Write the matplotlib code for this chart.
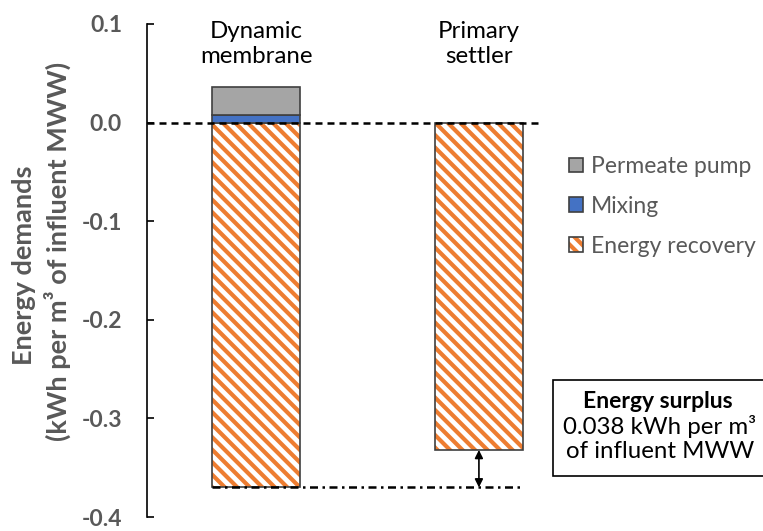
import matplotlib
matplotlib.use('Agg')
import matplotlib.pyplot as plt
from matplotlib.patches import Rectangle
from matplotlib.legend_handler import HandlerTuple

plt.rcParams['font.family'] = ['Lato', 'DejaVu Sans']
plt.rcParams['hatch.linewidth'] = 2.0

# energy balance per process (kWh per m3 of influent MWW)
processes = ['Dynamic\nmembrane', 'Primary\nsettler']
mixing = [0.008, 0.0]
permeate_pump = [0.028, 0.0]
energy_recovery = [-0.370, -0.332]
surplus = round(energy_recovery[1] - energy_recovery[0], 3)

yticks = [0.1, 0.0, -0.1, -0.2, -0.3, -0.4]

GRAY = '#A5A5A5'
BLUE = '#4472C4'
ORANGE = '#ED7D31'
EDGE = '#404040'
TXT = '#595959'

DPI = 150
W, H = 763, 531
fig = plt.figure(figsize=(W / DPI, H / DPI), dpi=DPI)
ax = fig.add_axes([147 / W, 14 / H, (540 - 147) / W, 493 / H])

x = [0, 1]
width = 0.395

# recovery bars: orange hatch first, dark outline on top
rec = ax.bar(x, energy_recovery, width, color='white', edgecolor=ORANGE,
             linewidth=0, hatch='\\\\\\\\', zorder=2)
rec_edge = ax.bar(x, energy_recovery, width, fill=False, edgecolor=EDGE,
                  linewidth=0.8, zorder=3)
mix = ax.bar(x[:1], mixing[:1], width, color=BLUE, edgecolor=EDGE,
             linewidth=0.8, zorder=3)
pump = ax.bar(x[:1], permeate_pump[:1], width, bottom=mixing[:1], color=GRAY,
              edgecolor=EDGE, linewidth=0.8, zorder=3)

# zero line
ax.axhline(0, color='black', lw=1.2, ls=(0, (2.8, 2.0)), zorder=4)

# reference line at the lower recovery level and the surplus arrow
ax.plot([x[0] - width / 2, 1.184], [energy_recovery[0]] * 2, color='black',
        lw=1.2, ls=(0, (3.2, 1.8, 1.0, 1.8)), zorder=4)
ax.annotate('', xy=(x[1], energy_recovery[0]), xytext=(x[1], energy_recovery[1]),
            arrowprops=dict(arrowstyle='<|-|>', color='black', lw=0.8,
                            mutation_scale=8, shrinkA=0, shrinkB=0), zorder=5)

for xi, name in zip(x, processes):
    ax.text(xi, 0.0795, name, ha='center', va='center', fontsize=11.5,
            color='black', linespacing=1.25)

ax.set_xlim(-0.489, 1.274)
ax.set_ylim(-0.4, 0.1)
ax.set_yticks(yticks)
ax.set_yticklabels(['%.1f' % v for v in yticks], fontweight='bold', color=TXT,
                   fontsize=11)
ax.tick_params(axis='y', direction='in', length=3.4, width=0.8, pad=12)
ax.set_xticks([])
for side in ['top', 'right', 'bottom']:
    ax.spines[side].set_visible(False)
ax.spines['left'].set_linewidth(0.8)

fig.text(24 / W, 1 - 265 / H, 'Energy demands', rotation=90, ha='center',
         va='center', fontsize=13, fontweight='bold', color=TXT)
fig.text(57 / W, 1 - 251 / H, '(kWh per m³ of influent MWW)', rotation=90,
         ha='center', va='center', fontsize=13, fontweight='bold', color=TXT)

# legend
handles = [pump[0], mix[0], (rec[0], rec_edge[0])]
labels = ['Permeate pump', 'Mixing', 'Energy recovery']
fig.legend(handles, labels, loc='upper left', bbox_to_anchor=(569 / W, 1 - 156 / H),
           frameon=False, fontsize=11, labelcolor=TXT, handlelength=0.6,
           handleheight=0.6, handletextpad=0.35, labelspacing=0.82,
           borderaxespad=0, borderpad=0,
           handler_map={tuple: HandlerTuple(ndivide=1)})

# surplus box
fig.add_artist(Rectangle((553 / W, 1 - 476 / H), (W - 552) / W, 96 / H,
                         transform=fig.transFigure, fill=False,
                         edgecolor='black', lw=0.8))
fig.text(658 / W, 1 - 402 / H, 'Energy surplus', ha='center', va='center',
         fontsize=11, fontweight='bold', color='black')
fig.text(660 / W, 1 - 427 / H, '%.3f kWh per m³' % surplus, ha='center',
         va='center', fontsize=11.5, color='black')
fig.text(660 / W, 1 - 452 / H, 'of influent MWW', ha='center', va='center',
         fontsize=11.5, color='black')

fig.savefig('out.png', dpi=DPI)
